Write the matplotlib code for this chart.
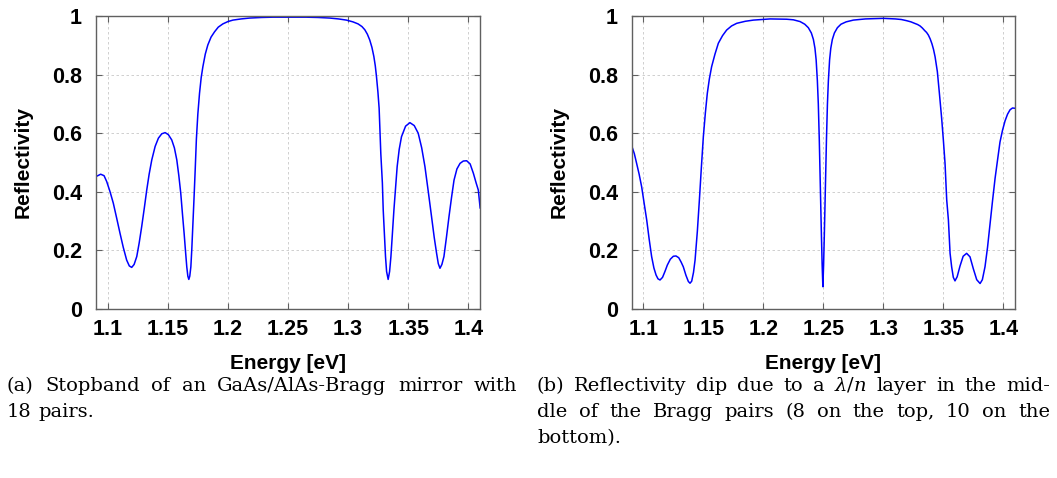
import matplotlib
matplotlib.use("Agg")
import matplotlib.pyplot as plt

# Reflectivity spectra (energy in eV, reflectivity 0..1)
energy_a = [1.0903, 1.0942, 1.0970, 1.0992, 1.1020, 1.1047, 1.1075, 1.1103, 1.1130, 1.1158,
            1.1180, 1.1200, 1.1220, 1.1242, 1.1262, 1.1283, 1.1305, 1.1325, 1.1345, 1.1367,
            1.1395, 1.1422, 1.1450, 1.1478, 1.1505, 1.1533, 1.1555, 1.1575, 1.1592, 1.1608,
            1.1622, 1.1636, 1.1648, 1.1658, 1.1667, 1.1675, 1.1683, 1.1692, 1.1700, 1.1708,
            1.1718, 1.1728, 1.1738, 1.1750, 1.1764, 1.1778, 1.1792, 1.1812, 1.1833, 1.1860,
            1.1889, 1.1920, 1.1958, 1.2000, 1.2042, 1.2110, 1.2181, 1.2280, 1.2375, 1.2500,
            1.2650, 1.2750, 1.2847, 1.2920, 1.2986, 1.3040, 1.3083, 1.3115, 1.3139, 1.3160,
            1.3180, 1.3198, 1.3214, 1.3226, 1.3236, 1.3248, 1.3258, 1.3272, 1.3285, 1.3292,
            1.3302, 1.3311, 1.3320, 1.3333, 1.3345, 1.3356, 1.3368, 1.3381, 1.3395, 1.3408,
            1.3425, 1.3444, 1.3478, 1.3514, 1.3550, 1.3583, 1.3612, 1.3639, 1.3667, 1.3694,
            1.3716, 1.3736, 1.3750, 1.3764, 1.3780, 1.3797, 1.3818, 1.3839, 1.3860, 1.3881,
            1.3905, 1.3931, 1.3958, 1.3986, 1.4015, 1.4042, 1.4065, 1.4083, 1.4098]
refl_a = [0.452, 0.460, 0.455, 0.435, 0.400, 0.361, 0.310, 0.258, 0.210, 0.167,
          0.147, 0.142, 0.152, 0.179, 0.225, 0.281, 0.345, 0.406, 0.460, 0.509,
          0.555, 0.583, 0.598, 0.602, 0.595, 0.577, 0.550, 0.509, 0.455, 0.395,
          0.325, 0.258, 0.195, 0.144, 0.112, 0.101, 0.112, 0.144, 0.205, 0.281,
          0.375, 0.474, 0.580, 0.665, 0.736, 0.790, 0.827, 0.870, 0.901, 0.928,
          0.946, 0.962, 0.973, 0.981, 0.986, 0.990, 0.993, 0.995, 0.996, 0.996,
          0.996, 0.995, 0.993, 0.990, 0.986, 0.980, 0.973, 0.964, 0.953, 0.938,
          0.918, 0.893, 0.862, 0.830, 0.793, 0.740, 0.685, 0.530, 0.430, 0.338,
          0.255, 0.179, 0.128, 0.101, 0.128, 0.179, 0.255, 0.338, 0.415, 0.486,
          0.545, 0.588, 0.624, 0.636, 0.626, 0.600, 0.550, 0.486, 0.400, 0.315,
          0.245, 0.190, 0.155, 0.139, 0.152, 0.179, 0.245, 0.315, 0.380, 0.440,
          0.478, 0.497, 0.505, 0.506, 0.495, 0.463, 0.430, 0.406, 0.345]

energy_b = [1.0903, 1.0925, 1.0944, 1.0965, 1.0986, 1.1007, 1.1028, 1.1048, 1.1069, 1.1088,
            1.1106, 1.1122, 1.1139, 1.1160, 1.1180, 1.1200, 1.1225, 1.1250, 1.1272, 1.1295,
            1.1315, 1.1333, 1.1355, 1.1375, 1.1389, 1.1403, 1.1418, 1.1431, 1.1450, 1.1467,
            1.1483, 1.1500, 1.1517, 1.1533, 1.1550, 1.1569, 1.1597, 1.1625, 1.1660, 1.1694,
            1.1735, 1.1778, 1.1850, 1.1917, 1.2056, 1.2194, 1.2250, 1.2306, 1.2345, 1.2375,
            1.2400, 1.2417, 1.2430, 1.2440, 1.2450, 1.2458, 1.2466, 1.2472, 1.2478, 1.2484,
            1.2490, 1.2496, 1.2502, 1.2508, 1.2514, 1.2520, 1.2526, 1.2534, 1.2542, 1.2552,
            1.2562, 1.2575, 1.2592, 1.2617, 1.2647, 1.2690, 1.2750, 1.2850, 1.3000, 1.3100,
            1.3150, 1.3194, 1.3230, 1.3260, 1.3285, 1.3306, 1.3325, 1.3345, 1.3360, 1.3375,
            1.3390, 1.3405, 1.3418, 1.3431, 1.3450, 1.3467, 1.3486, 1.3500, 1.3514, 1.3528,
            1.3542, 1.3556, 1.3569, 1.3583, 1.3597, 1.3615, 1.3639, 1.3665, 1.3694, 1.3722,
            1.3750, 1.3778, 1.3806, 1.3825, 1.3847, 1.3868, 1.3889, 1.3910, 1.3931, 1.3952,
            1.3972, 1.3993, 1.4014, 1.4035, 1.4056, 1.4076, 1.4098]
refl_b = [0.557, 0.530, 0.497, 0.460, 0.417, 0.360, 0.304, 0.240, 0.179, 0.140,
          0.116, 0.103, 0.099, 0.108, 0.128, 0.150, 0.170, 0.180, 0.181, 0.175,
          0.160, 0.144, 0.115, 0.094, 0.088, 0.095, 0.125, 0.167, 0.265, 0.372,
          0.480, 0.588, 0.670, 0.736, 0.785, 0.827, 0.870, 0.907, 0.933, 0.952,
          0.966, 0.975, 0.982, 0.986, 0.990, 0.989, 0.987, 0.981, 0.972, 0.960,
          0.942, 0.920, 0.890, 0.850, 0.780, 0.700, 0.580, 0.470, 0.360, 0.250,
          0.150, 0.076, 0.150, 0.250, 0.360, 0.470, 0.580, 0.700, 0.780, 0.850,
          0.890, 0.920, 0.942, 0.960, 0.972, 0.980, 0.986, 0.990, 0.992, 0.990,
          0.988, 0.984, 0.980, 0.975, 0.971, 0.966, 0.959, 0.950, 0.944, 0.935,
          0.922, 0.905, 0.886, 0.861, 0.810, 0.736, 0.650, 0.577, 0.497, 0.372,
          0.304, 0.190, 0.144, 0.108, 0.096, 0.110, 0.147, 0.180, 0.190, 0.178,
          0.137, 0.100, 0.087, 0.100, 0.144, 0.210, 0.290, 0.370, 0.446, 0.510,
          0.570, 0.610, 0.642, 0.665, 0.680, 0.686, 0.685]

x_ticks = [1.1, 1.15, 1.2, 1.25, 1.3, 1.35, 1.4]
x_tick_labels = ["1.1", "1.15", "1.2", "1.25", "1.3", "1.35", "1.4"]
y_ticks = [0, 0.2, 0.4, 0.6, 0.8, 1.0]
y_tick_labels = ["0", "0.2", "0.4", "0.6", "0.8", "1"]
x_range = (1.0903, 1.4097)

caption_a = ["(a) Stopband of an GaAs/AlAs-Bragg mirror with", "18 pairs."]
caption_b = [r"(b) Reflectivity dip due to a $\lambda/n$ layer in the mid-",
             "dle of the Bragg pairs (8 on the top, 10 on the",
             "bottom)."]

W, H = 1057, 478
fig = plt.figure(figsize=(W / 100, H / 100), dpi=100)
plt.rcParams["mathtext.fontset"] = "dejavuserif"

sans = "Liberation Sans"
spine_col = "#606060"


def style_axes(ax):
    ax.set_xlim(*x_range)
    ax.set_ylim(0, 1)
    ax.set_xticks(x_ticks)
    ax.set_xticklabels(x_tick_labels, fontfamily=sans, fontweight="bold", fontsize=15.5)
    ax.set_yticks(y_ticks)
    ax.set_yticklabels(y_tick_labels, fontfamily=sans, fontweight="bold", fontsize=15.5)
    ax.tick_params(axis="both", direction="in", length=4, width=0.8, color=spine_col,
                   top=True, right=True)
    ax.tick_params(axis="x", pad=7)
    ax.tick_params(axis="y", pad=10)
    ax.grid(True, color="#c8c8c8", linestyle=(0, (3, 3)), linewidth=0.6)
    for s in ax.spines.values():
        s.set_color(spine_col)
        s.set_linewidth(1.0)
    ax.set_xlabel("Energy [eV]", fontfamily=sans, fontweight="bold", fontsize=15)
    ax.set_ylabel("Reflectivity", fontfamily=sans, fontweight="bold", fontsize=15)
    ax.xaxis.set_label_coords(0.5, -0.154)
    ax.yaxis.set_label_coords(-0.165, 0.5)


ax_a = fig.add_axes([96 / W, 1 - 309 / H, 384 / W, 293 / H])
ax_b = fig.add_axes([631.7 / W, 1 - 309 / H, 383.3 / W, 293 / H])
ax_a.plot(energy_a, refl_a, color="#0000ff", linewidth=1.1)
ax_b.plot(energy_b, refl_b, color="#0000ff", linewidth=1.1)
style_axes(ax_a)
style_axes(ax_b)

# Justified caption text below each panel
renderer = fig.canvas.get_renderer()
cap_font = dict(family="DejaVu Serif", size=14, color="black")


def text_width(s):
    t = fig.text(0, 0, s, **cap_font)
    w = t.get_window_extent(renderer).width
    t.remove()
    return w


space_w = text_width("a a") - text_width("aa")


def draw_line(text, x0, x1, y, justify):
    words = text.split(" ")
    arts = [fig.text(0, y / H, w, va="baseline", ha="left", **cap_font) for w in words]
    widths = [a.get_window_extent(renderer).width for a in arts]
    if justify and len(words) > 1:
        gap = (x1 - x0 - sum(widths)) / (len(words) - 1)
    else:
        gap = space_w
    x = x0
    for a, w in zip(arts, widths):
        a.set_x(x / W)
        x += w + gap


def draw_caption(lines, x0, x1, y0, dy):
    for i, line in enumerate(lines):
        draw_line(line, x0, x1, H - (y0 + i * dy), i < len(lines) - 1)


draw_caption(caption_a, 7, 517, 391, 26)
draw_caption(caption_b, 537, 1050, 391, 26)

fig.savefig("out.png", dpi=100)
